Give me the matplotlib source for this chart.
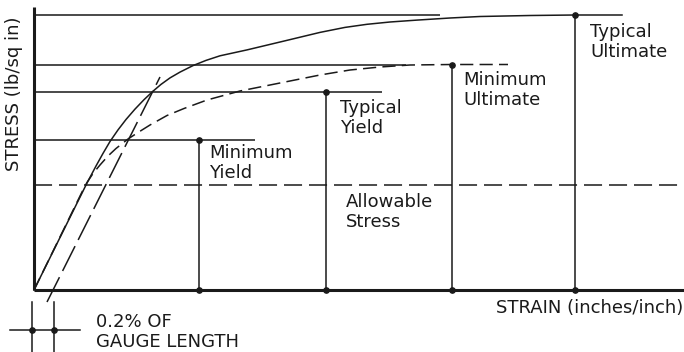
import matplotlib
matplotlib.use("Agg")
import matplotlib.pyplot as plt

plt.rcParams['font.family'] = ['DejaVu Sans']
plt.rcParams['lines.scale_dashes'] = False

# stress-strain curves (strain and stress in arbitrary drawing units)
typical_strain = [0, 26, 53, 62, 69, 76, 84, 92, 101, 110, 119, 127, 136, 146, 159, 172,
                  186, 213, 249, 286, 311, 333, 356, 383, 416, 446, 496, 541, 588]
typical_stress = [0, 52.5, 107, 124, 136.6, 148.5, 160.1, 170.5, 180.9, 190.3, 198.8, 205.6,
                  212.1, 217.9, 224.4, 229.6, 234.2, 240.1, 248.7, 257.6, 262.6, 265.7,
                  268, 269.9, 272, 273.5, 274.5, 275, 275]

minimum_strain = [0, 48, 53, 59, 66, 74, 82, 94, 104, 116, 133, 150, 173, 206, 246, 286,
                  316, 346, 376, 418, 474]
minimum_stress = [0, 98, 107.5, 116.5, 125, 134, 141.5, 151, 157.5, 165, 174.5, 181.5, 190,
                  199, 207, 215, 220, 223, 225, 225.5, 225.5]

# 0.2% offset line
offset_strain = [13, 126]
offset_stress = [-12, 213]

# characteristic points
level_names = ["Minimum\nYield", "Typical\nYield", "Minimum\nUltimate", "Typical\nUltimate"]
level_strain = [165, 292, 418, 541]
level_stress = [150, 198, 225, 275]
level_line_end = [221, 348, 372, 406]
allowable_stress = 105

# gauge length marks
gauge_marks = [-2, 20]

INK = '#1a1a1a'
GREY = '#3a3a3a'

fig = plt.figure(figsize=(6.84, 3.52), dpi=100)
ax = fig.add_axes([0, 0, 1, 1])
ax.set_xlim(-34, 650)
ax.set_ylim(-62, 290)
ax.axis('off')

# reference levels from the stress axis
for s, end in zip(level_stress, level_line_end):
    ax.plot([0, end], [s, s], color=GREY, lw=1.3, solid_capstyle='butt')
ax.plot([0, 650], [allowable_stress] * 2, color=INK, lw=1.1, dashes=(13, 5))

# drop lines to the strain axis
for x, s in zip(level_strain, level_stress):
    ax.plot([x, x], [0, s], color=INK, lw=1.1)
    ax.plot([x, x], [0, s], 'o', color=INK, ms=3.8)

ax.plot(typical_strain, typical_stress, color=INK, lw=1.1)
ax.plot(minimum_strain, minimum_stress, color=INK, lw=1.1, dashes=(9.5, 4.5))
ax.plot(offset_strain, offset_stress, color=INK, lw=1.1, dashes=(20, 5))

# axes
ax.plot([0, 0], [0, 283], color=INK, lw=2.2, solid_capstyle='butt')
ax.plot([0, 650], [0, 0], color=INK, lw=2.2, solid_capstyle='butt')

for g in gauge_marks:
    ax.plot([g, g], [-12, -62], color=INK, lw=1.1)
    ax.plot([g], [-40], 'o', color=INK, ms=3.8)
ax.plot([-24, 46], [-40, -40], color=INK, lw=1.1)

fs = 13
ls = 1.2
label_pos = [(175, 127), (306, 172), (429, 200), (556, 248)]
for name, (x, y) in zip(level_names, label_pos):
    ax.text(x, y, name, fontsize=fs, color=INK, va='center', ha='left', linespacing=ls)
ax.text(312, 78, "Allowable\nStress", fontsize=fs, color=INK, va='center', ha='left', linespacing=ls)
ax.text(649, -18, "STRAIN (inches/inch)", fontsize=fs, color=INK, va='center', ha='right')
ax.text(62, -42, "0.2% OF\nGAUGE LENGTH", fontsize=fs, color=INK, va='center', ha='left', linespacing=ls)
ax.text(-20, 196, "STRESS (lb/sq in)", fontsize=fs, color=INK, va='center', ha='center', rotation=90)

fig.savefig("out.png", dpi=100)
